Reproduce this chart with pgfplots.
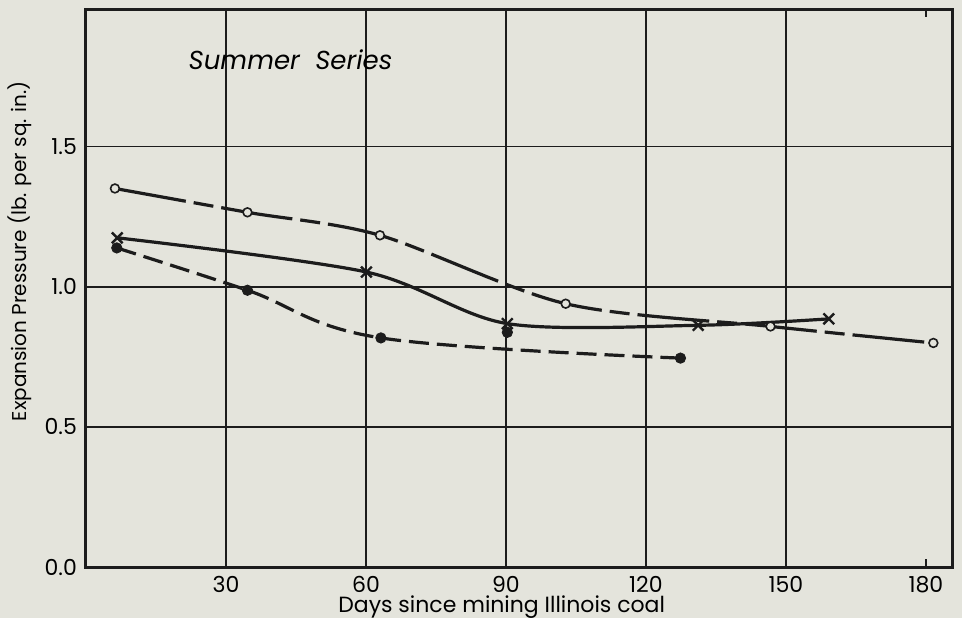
\documentclass[border=0pt]{standalone}
\usepackage{pgfplots}
\pgfplotsset{compat=1.18}
\usepackage{fontspec}
\setmainfont{Poppins}
\usetikzlibrary{backgrounds}
\definecolor{bg}{RGB}{228,228,220}
\definecolor{ink}{RGB}{28,28,28}

\pgfplotstableread{
x y
6.2 1.350
34.6 1.265
63.0 1.183
102.8 0.939
146.7 0.858
181.6 0.799
}\opencirc

\pgfplotstableread{
x y
6.7 1.174
60.1 1.052
90.3 0.868
131.2 0.862
159.2 0.885
}\crosses

\pgfplotstableread{
x y
6.6 1.138
34.6 0.987
63.2 0.817
90.3 0.837
127.4 0.745
}\filled

\pgfplotstableread{
x y
6.6 1.138
34.6 0.987
63.2 0.817
127.4 0.745
}\filledfit

\begin{document}
\begin{tikzpicture}[font=\fontsize{11}{13}\selectfont]
\path[use as bounding box] (-43pt,-25.5pt) rectangle (438pt,283.5pt);
\begin{axis}[
  scale only axis, width=433pt, height=279pt,
  xmin=0, xmax=185.6, ymin=0, ymax=1.99,
  xtick={30,60,90,120,150},
  extra x ticks={180},
  extra x tick style={grid=none, major tick length=4pt, tick align=inside, tick style={ink, line width=0.9pt}},
  ytick={0,0.5,1,1.5},
  yticklabels={0.0,0.5,1.0,1.5},
  /pgf/number format/assume math mode=true,
  grid=major,
  major grid style={ink, line width=0.9pt},
  axis line style={ink, line width=1.5pt},
  major tick length=0pt,
  xlabel={Days since mining Illinois coal},
  ylabel={Expansion Pressure (lb. per sq. in.)},
  xlabel style={at={(axis description cs:0.48,0)}, anchor=center, yshift=-19.8pt},
  ylabel style={at={(axis description cs:-0.0762,0.566)}, anchor=center, font=\fontsize{10}{12}\selectfont},
  yticklabel style={xshift=-1pt},
  xticklabel style={yshift=-1pt},
  clip=false,
]
% open circles, long-short dashed curve
\addplot[ink, line width=1.6pt, smooth, tension=0.5, dash pattern=on 36pt off 4pt on 10pt off 4pt] table {\opencirc};
\addplot[only marks, mark=*, mark size=2.2pt, mark options={fill=bg, draw=ink, line width=0.8pt}] table {\opencirc};
% crosses, solid curve
\addplot[ink, line width=1.6pt, smooth, tension=0.5] table {\crosses};
\addplot[only marks, mark=x, mark size=3.8pt, mark options={draw=ink, line width=1.2pt}] table {\crosses};
% filled dots, dashed curve (fitted)
\addplot[ink, line width=1.6pt, smooth, tension=0.6, dash pattern=on 10pt off 4pt] table {\filledfit};
\addplot[only marks, mark=*, mark size=2.6pt, mark options={fill=ink, draw=ink}] table {\filled};
\node[anchor=west, font=\fontsize{13}{15}\selectfont\itshape] at (axis cs:20.5,1.81) {Summer\ \ Series};
\end{axis}
\begin{scope}[on background layer]
\fill[bg] (-43pt,-25.5pt) rectangle (438pt,283.5pt);
\end{scope}
\end{tikzpicture}
\end{document}
